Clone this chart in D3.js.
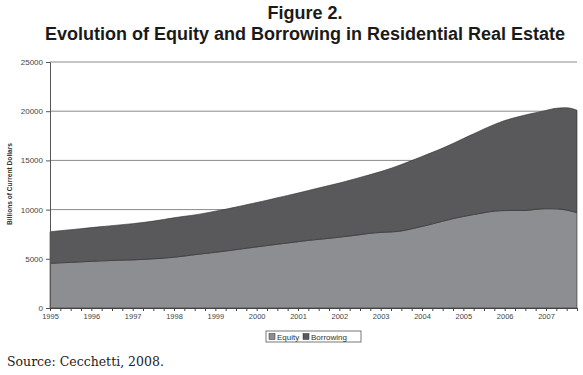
<!DOCTYPE html>
<html>
<head>
<meta charset="utf-8">
<script src="https://cdn.jsdelivr.net/npm/d3@7"></script>
<style>
body { margin: 0; background: #fff; }
svg { display: block; font-family: "Liberation Sans", Arial, sans-serif; }
</style>
</head>
<body>
<svg id="chart" width="583" height="375"></svg>
<script>
// categories: one label per year, data is quarterly (1995Q1 .. 2007Q4)
var years = ["1995", "1996", "1997", "1998", "1999", "2000", "2001",
             "2002", "2003", "2004", "2005", "2006", "2007"];

// billions of current dollars
var equity = [4540, 4590, 4640, 4690, 4740, 4790, 4830, 4860, 4890, 4940,
              5000, 5070, 5160, 5280, 5420, 5540, 5660, 5790, 5930, 6070,
              6210, 6350, 6480, 6610, 6740, 6870, 6980, 7080, 7200, 7320,
              7450, 7600, 7680, 7730, 7830, 8050, 8290, 8550, 8820, 9080,
              9300, 9500, 9680, 9850, 9900, 9920, 9910, 10030, 10090, 10080,
              9950, 9690];
var borrowing = [3210, 3270, 3320, 3370, 3430, 3480, 3540, 3610, 3680, 3750,
                 3830, 3930, 4010, 4040, 4040, 4100, 4180, 4250, 4330, 4420,
                 4510, 4600, 4720, 4830, 4940, 5070, 5220, 5370, 5500, 5660,
                 5820, 5960, 6180, 6470, 6750, 6930, 7110, 7270, 7430, 7640,
                 7920, 8200, 8520, 8800, 9150, 9430, 9710, 9820, 9990, 10220,
                 10400, 10410];

var yTicks = [0, 5000, 10000, 15000, 20000, 25000];
var seriesNames = ["Equity", "Borrowing"];
var seriesColors = ["#8d8e92", "#59595b"];

var quarters = [];
years.forEach(function (yr) {
    for (var q = 1; q <= 4; q++) quarters.push(yr + "Q" + q);
});

var rows = quarters.map(function (q, i) {
    return { q: q, Equity: equity[i], Borrowing: borrowing[i] };
});

var svg = d3.select("#chart");
// note: "top" is taken by window.top, hence the plot* names
var plotLeft = 50, plotRight = 577, plotTop = 62, plotBottom = 308;

var x = d3.scalePoint().domain(quarters).range([plotLeft, plotRight]);
var y = d3.scaleLinear().domain([0, 25000]).range([plotBottom, plotTop]);

// titles
var title = svg.append("g")
    .attr("text-anchor", "middle")
    .style("font-weight", "bold")
    .style("font-size", "18px")
    .attr("fill", "#1a1a1a");
title.append("text").attr("x", 305).attr("y", 19).text("Figure 2.");
title.append("text").attr("x", 305).attr("y", 40)
    .text("Evolution of Equity and Borrowing in Residential Real Estate");

// gridlines (under the areas)
svg.append("g")
    .selectAll("line")
    .data(yTicks.filter(function (d) { return d > 0; }))
    .enter()
    .append("line")
    .attr("x1", plotLeft)
    .attr("x2", plotRight)
    .attr("y1", function (d) { return y(d); })
    .attr("y2", function (d) { return y(d); })
    .attr("stroke", "#8a8a8a")
    .attr("stroke-width", 1);

// stacked areas
var stacked = d3.stack().keys(seriesNames)(rows);
var area = d3.area()
    .x(function (d) { return x(d.data.q); })
    .y0(function (d) { return y(d[0]); })
    .y1(function (d) { return y(d[1]); })
    .curve(d3.curveMonotoneX);

svg.append("g")
    .selectAll("path")
    .data(stacked)
    .enter()
    .append("path")
    .attr("d", area)
    .attr("fill", function (d, i) { return seriesColors[i]; })
    .attr("stroke", "#2e2e2e")
    .attr("stroke-width", 0.6);

// axes
var yAxis = svg.append("g")
    .attr("transform", "translate(" + plotLeft + ",0)")
    .call(d3.axisLeft(y).tickValues(yTicks).tickSize(4).tickPadding(3)
        .tickFormat(d3.format("d")));
yAxis.select(".domain").attr("stroke", "#555");
yAxis.selectAll(".tick line").attr("stroke", "#555");
yAxis.selectAll("text").attr("fill", "#444").style("font-size", "8px");

var xAxis = svg.append("g")
    .attr("transform", "translate(0," + plotBottom + ")")
    .call(d3.axisBottom(x).tickValues(quarters).tickSize(3).tickPadding(3)
        .tickFormat(function (q) { return q.slice(4) === "Q1" ? q.slice(0, 4) : ""; }));
xAxis.select(".domain").attr("stroke", "#444");
xAxis.selectAll(".tick line").attr("stroke", "#444");
xAxis.selectAll("text").attr("fill", "#444").style("font-size", "7.5px");

// y axis title
svg.append("text")
    .attr("transform", "translate(12,184) rotate(-90)")
    .attr("text-anchor", "middle")
    .style("font-weight", "bold")
    .style("font-size", "7px")
    .attr("textLength", 82)
    .attr("lengthAdjust", "spacingAndGlyphs")
    .attr("fill", "#333")
    .text("Billions of Current Dollars");

// legend
var legend = svg.append("g").attr("transform", "translate(266,331)");
legend.append("rect")
    .attr("width", 95).attr("height", 11)
    .attr("fill", "#fff").attr("stroke", "#555").attr("stroke-width", 0.8);
var legX = [3, 37];
var items = legend.selectAll("g.item")
    .data(seriesNames)
    .enter()
    .append("g")
    .attr("class", "item")
    .attr("transform", function (d, i) { return "translate(" + legX[i] + ",2.5)"; });
items.append("rect")
    .attr("width", 6).attr("height", 6)
    .attr("fill", function (d, i) { return seriesColors[i]; })
    .attr("stroke", "#333").attr("stroke-width", 0.5);
items.append("text")
    .attr("x", 8).attr("y", 6)
    .style("font-size", "8px")
    .attr("fill", "#333")
    .text(function (d) { return d; });

// source note
svg.append("text")
    .attr("x", 7).attr("y", 366)
    .style("font-family", "'DejaVu Serif', serif")
    .style("font-size", "12.5px")
    .attr("fill", "#222")
    .text("Source: Cecchetti, 2008.");
</script>
</body>
</html>
